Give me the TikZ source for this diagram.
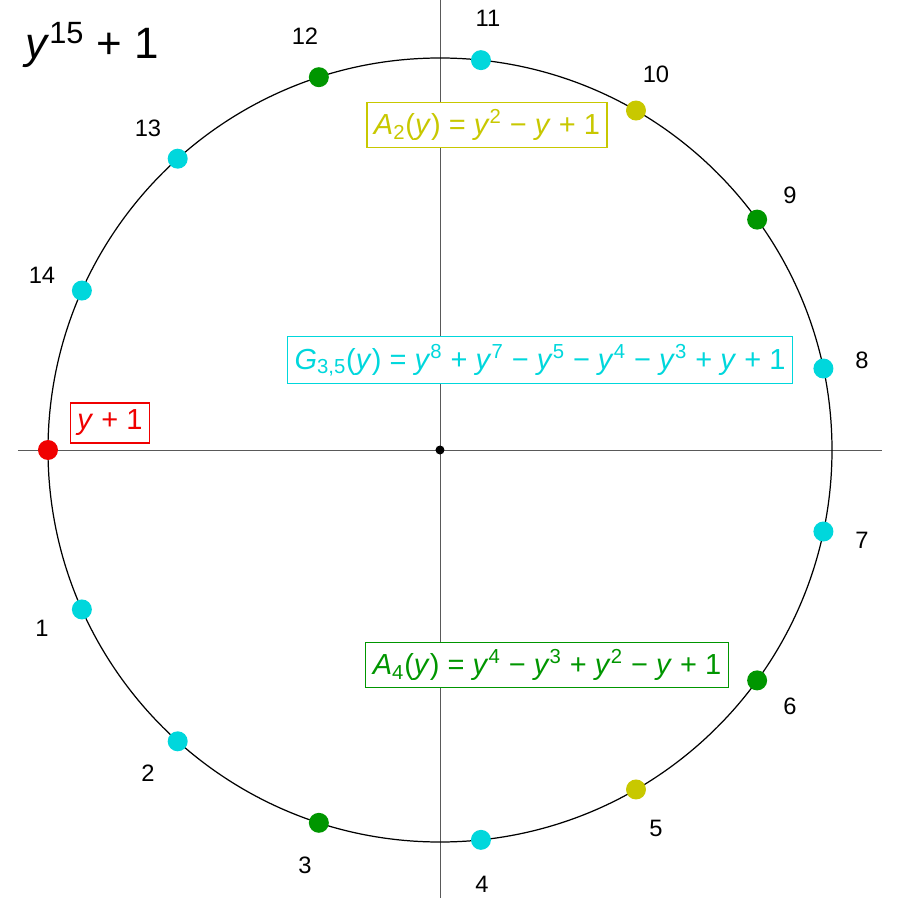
\documentclass[tikz,border=0pt]{standalone}
\usepackage{fontspec}
\setmainfont{Liberation Sans}
\newcommand\iv[1]{\textit{#1}}
\newcommand\sps[1]{\textsuperscript{#1}}
\newcommand\sbs[1]{\textsubscript{#1}}
\definecolor{cy}{RGB}{0,215,220}
\definecolor{gr}{RGB}{0,150,0}
\definecolor{ol}{RGB}{200,200,0}
\definecolor{rd}{RGB}{240,0,0}
\begin{document}
\begin{tikzpicture}[x=0.02cm,y=0.02cm,
  pt/.style={circle,fill=#1,inner sep=0pt,minimum size=0.4cm},
  lab/.style={font=\fontsize{13.5}{15}\selectfont},
  fbox/.style={draw=#1,text=#1,fill=white,line width=0.7pt,inner sep=4pt,font=\fontsize{16.5}{19}\selectfont}]
\useasboundingbox (-440,-450) rectangle (460,450);
\draw[gray!70!black,line width=0.5pt] (-422,0) coordinate (xl) -- (442,0) coordinate (xr);
\draw[gray!70!black,line width=0.5pt] (0,450) coordinate (yt) -- (0,-448) coordinate (yb);
\draw[line width=0.7pt] (0,0) circle (392);
\node[circle,fill=black,inner sep=0pt,minimum size=0.18cm] (o) at (0,0) {};
\foreach \k/\c in {0/rd,1/cy,2/cy,3/gr,4/cy,5/ol,6/gr,7/cy,8/cy,9/gr,10/ol,11/cy,12/gr,13/cy,14/cy}{
  \node[pt=\c] (p\k) at ({180+24*\k}:392) {};
}
\foreach \k/\x/\y in {1/42/628,2/148/773,3/305/865,4/482/884,5/656/828,6/790/706,7/862/540,8/862/360,9/790/195,10/656/74,11/488/18,12/305/36,13/148/128,14/42/275}{
  \node[lab] (l\k) at ({\x-440},{450-\y}) {\k};
}
\node[font=\fontsize{25}{30}\selectfont] (title) at (-348,405) {\iv{y}\sps{15} + 1};
\node[fbox=ol] (a2) at (47,325) {\iv{A}\sbs{2}(\iv{y}) = \iv{y}\sps{2} − \iv{y} + 1};
\node[fbox=cy] (g) at (100,90) {\iv{G}\sbs{3,5}(\iv{y}) = \iv{y}\sps{8} + \iv{y}\sps{7} − \iv{y}\sps{5} − \iv{y}\sps{4} − \iv{y}\sps{3} + \iv{y} + 1};
\node[fbox=gr] (a4) at (107,-215) {\iv{A}\sbs{4}(\iv{y}) = \iv{y}\sps{4} − \iv{y}\sps{3} + \iv{y}\sps{2} − \iv{y} + 1};
\node[fbox=rd] (y1) at (-330,27) {\iv{y} + 1};
\end{tikzpicture}
\end{document}
